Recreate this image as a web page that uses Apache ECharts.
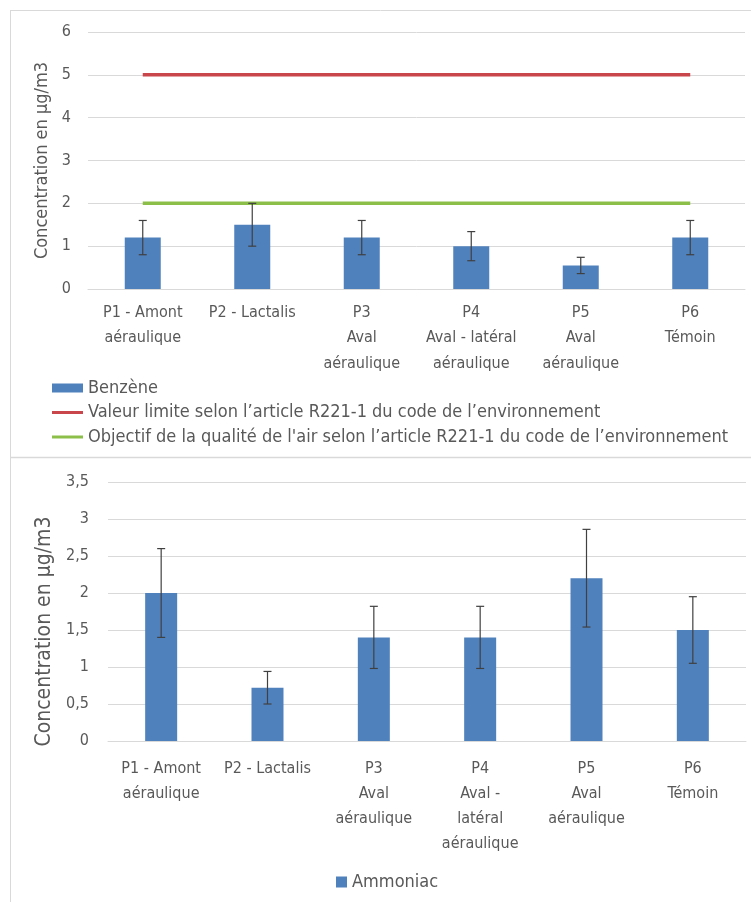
<!DOCTYPE html>
<html><head><meta charset="utf-8">
<script src="https://cdn.jsdelivr.net/npm/echarts@6/dist/echarts.min.js"></script>
<style>html,body{margin:0;padding:0;background:#fff}#c{width:751px;height:902px}</style>
</head><body><div id="c"></div>
<script>
const categoriesTop = ['P1 - Amont\naéraulique','P2 - Lactalis','P3\nAval\naéraulique','P4\nAval - latéral\naéraulique','P5\nAval\naéraulique','P6\nTémoin'];
const categoriesBottom = ['P1 - Amont\naéraulique','P2 - Lactalis','P3\nAval\naéraulique','P4\nAval -\nlatéral\naéraulique','P5\nAval\naéraulique','P6\nTémoin'];
const benzene = [1.2, 1.5, 1.2, 1.0, 0.55, 1.2];
const benzeneErr = [0.4, 0.5, 0.4, 0.34, 0.19, 0.4];
const valeurLimite = [5, 5, 5, 5, 5, 5];
const objectifQualite = [2, 2, 2, 2, 2, 2];
const ammoniac = [2.0, 0.72, 1.4, 1.4, 2.2, 1.5];
const ammoniacErr = [0.6, 0.22, 0.42, 0.42, 0.66, 0.45];
const yTicksTop = [0, 1, 2, 3, 4, 5, 6];
const yTicksBottom = [0, 0.5, 1, 1.5, 2, 2.5, 3, 3.5];

const FONT = "'Liberation Sans Narrow', 'DejaVu Sans Condensed', 'Open Sans', sans-serif";
const GREY = '#595959';
const BLUE = '#4f81bd';
const RED = '#c9474a';
const GREEN = '#8cbf4a';

function errData(vals, errs) {
  return vals.map((v, i) => [i, v - errs[i], v + errs[i]]);
}
function errRender(params, api) {
  const x = api.value(0);
  const lo = api.coord([x, api.value(1)]);
  const hi = api.coord([x, api.value(2)]);
  const cap = 4;
  const st = { stroke: '#404040', lineWidth: 1.2 };
  return {
    type: 'group',
    children: [
      { type: 'line', shape: { x1: lo[0], y1: lo[1], x2: hi[0], y2: hi[1] }, style: st },
      { type: 'line', shape: { x1: lo[0]-cap, y1: lo[1], x2: lo[0]+cap, y2: lo[1] }, style: st },
      { type: 'line', shape: { x1: hi[0]-cap, y1: hi[1], x2: hi[0]+cap, y2: hi[1] }, style: st }
    ]
  };
}
const fmt = v => String(v).replace('.', ',');
const LINE_ICON = 'path://M0,0L31,0L31,3L0,3Z';

const chart = echarts.init(document.getElementById('c'), null, { renderer: 'canvas' });
chart.setOption({
  animation: false,
  textStyle: { fontFamily: FONT },
  grid: [
    { left: 88, right: 6, top: 32, height: 257 },
    { left: 108, right: 5, top: 482, height: 259 }
  ],
  xAxis: [
    { type: 'category', gridIndex: 0, data: categoriesTop,
      axisLine: { lineStyle: { color: '#d9d9d9' } }, axisTick: { show: false },
      axisLabel: { color: GREY, fontSize: 16, lineHeight: 25.5, margin: 11, interval: 0, fontFamily: FONT } },
    { type: 'category', gridIndex: 1, data: categoriesBottom,
      axisLine: { lineStyle: { color: '#d9d9d9' } }, axisTick: { show: false },
      axisLabel: { color: GREY, fontSize: 16, lineHeight: 25, margin: 15, interval: 0, fontFamily: FONT } }
  ],
  yAxis: [
    { type: 'value', gridIndex: 0, min: yTicksTop[0], max: yTicksTop[yTicksTop.length-1], interval: 1,
      name: 'Concentration en µg/m3', nameLocation: 'middle', nameGap: 32,
      nameTextStyle: { color: GREY, fontSize: 18, fontFamily: FONT },
      axisLine: { show: false }, axisTick: { show: false },
      axisLabel: { color: GREY, fontSize: 16, margin: 17, formatter: fmt, fontFamily: FONT },
      splitLine: { lineStyle: { color: '#d9d9d9' } } },
    { type: 'value', gridIndex: 1, min: yTicksBottom[0], max: yTicksBottom[yTicksBottom.length-1], interval: 0.5,
      name: 'Concentration en µg/m3', nameLocation: 'middle', nameGap: 52,
      nameTextStyle: { color: GREY, fontSize: 21, fontFamily: FONT, padding: [0, 40, 0, 0] },
      axisLine: { show: false }, axisTick: { show: false },
      axisLabel: { color: GREY, fontSize: 16, margin: 19, formatter: fmt, fontFamily: FONT },
      splitLine: { lineStyle: { color: '#d9d9d9' } } }
  ],
  legend: [
    { orient: 'vertical', left: 47, top: 373, itemWidth: 31, itemHeight: 9, itemGap: 4.5,
      symbolKeepAspect: true,
      textStyle: { color: GREY, fontSize: 18, lineHeight: 20, fontFamily: FONT },
      data: [
        { name: 'Benzène', icon: 'rect' },
        { name: 'Valeur limite selon l’article R221-1 du code de l’environnement', icon: LINE_ICON },
        { name: "Objectif de la qualité de l'air selon l’article R221-1 du code de l’environnement", icon: LINE_ICON }
      ] },
    { left: 331, top: 867, itemWidth: 11, itemHeight: 11,
      textStyle: { color: GREY, fontSize: 18, lineHeight: 20, fontFamily: FONT },
      data: [{ name: 'Ammoniac', icon: 'rect' }] }
  ],
  graphic: [
    { type: 'line', shape: { x1: 10, y1: 10.5, x2: 751, y2: 10.5 }, style: { stroke: '#d9d9d9', lineWidth: 1 } },
    { type: 'line', shape: { x1: 10.5, y1: 10, x2: 10.5, y2: 902 }, style: { stroke: '#d9d9d9', lineWidth: 1 } },
    { type: 'line', shape: { x1: 10, y1: 457.5, x2: 751, y2: 457.5 }, style: { stroke: '#d9d9d9', lineWidth: 1.5 } }
  ],
  series: [
    { name: 'Benzène', type: 'bar', xAxisIndex: 0, yAxisIndex: 0, data: benzene, barWidth: 36,
      itemStyle: { color: BLUE } },
    { name: 'Valeur limite selon l’article R221-1 du code de l’environnement', type: 'line', xAxisIndex: 0, yAxisIndex: 0,
      data: valeurLimite, symbol: 'none', lineStyle: { color: RED, width: 3.5 }, itemStyle: { color: RED } },
    { name: "Objectif de la qualité de l'air selon l’article R221-1 du code de l’environnement", type: 'line', xAxisIndex: 0, yAxisIndex: 0,
      data: objectifQualite, symbol: 'none', lineStyle: { color: GREEN, width: 3.5 }, itemStyle: { color: GREEN } },
    { type: 'custom', xAxisIndex: 0, yAxisIndex: 0, data: errData(benzene, benzeneErr), renderItem: errRender, z: 10,
      encode: { x: 0, y: [1, 2] } },
    { name: 'Ammoniac', type: 'bar', xAxisIndex: 1, yAxisIndex: 1, data: ammoniac, barWidth: 32,
      itemStyle: { color: BLUE } },
    { type: 'custom', xAxisIndex: 1, yAxisIndex: 1, data: errData(ammoniac, ammoniacErr), renderItem: errRender, z: 10,
      encode: { x: 0, y: [1, 2] } }
  ]
});
</script></body></html>
